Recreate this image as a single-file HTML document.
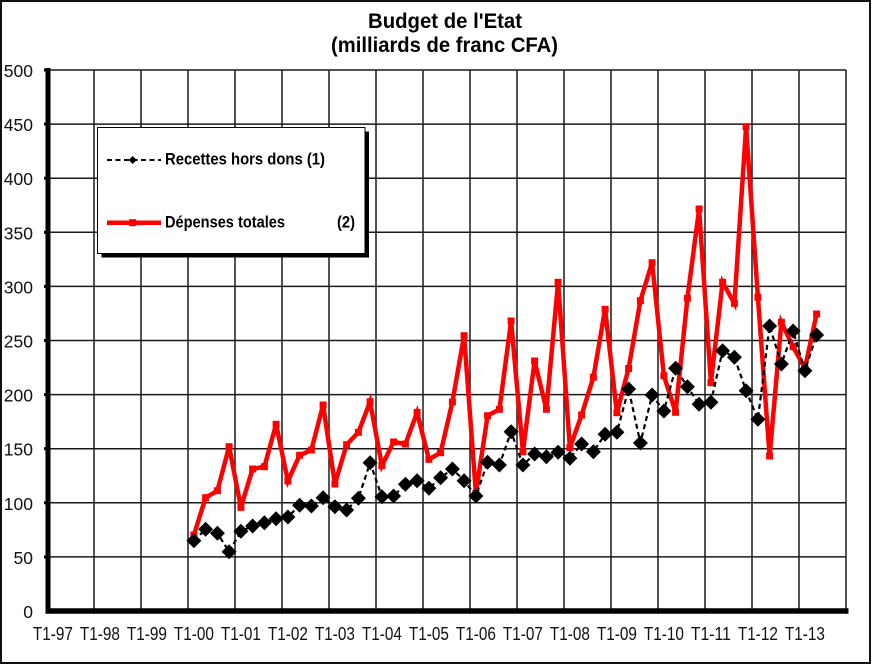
<!DOCTYPE html>
<html><head><meta charset="utf-8"><style>html,body{margin:0;padding:0;background:#fff}svg{display:block}</style></head>
<body>
<svg width="874" height="667" viewBox="0 0 874 667" xmlns="http://www.w3.org/2000/svg" font-family="Liberation Sans, Arial, sans-serif">
<rect x="0" y="0" width="874" height="667" fill="#fff"/>
<rect x="1" y="1" width="869" height="662" fill="none" stroke="#111" stroke-width="2"/>
<!-- title -->
<text x="445" y="28" font-size="21" font-weight="bold" text-anchor="middle" textLength="154" lengthAdjust="spacingAndGlyphs">Budget de l'Etat</text>
<text x="444.5" y="52" font-size="21" font-weight="bold" text-anchor="middle" textLength="227" lengthAdjust="spacingAndGlyphs">(milliards de franc CFA)</text>
<!-- grid -->
<g stroke="#1a1a1a" stroke-width="1.5">
<line x1="48" y1="70" x2="846" y2="70"/>
<line x1="48" y1="124.1" x2="846" y2="124.1"/>
<line x1="48" y1="178.2" x2="846" y2="178.2"/>
<line x1="48" y1="232.3" x2="846" y2="232.3"/>
<line x1="48" y1="286.4" x2="846" y2="286.4"/>
<line x1="48" y1="340.5" x2="846" y2="340.5"/>
<line x1="48" y1="394.6" x2="846" y2="394.6"/>
<line x1="48" y1="448.7" x2="846" y2="448.7"/>
<line x1="48" y1="502.8" x2="846" y2="502.8"/>
<line x1="48" y1="556.9" x2="846" y2="556.9"/>
<line x1="94" y1="70" x2="94" y2="611"/>
<line x1="141" y1="70" x2="141" y2="611"/>
<line x1="188" y1="70" x2="188" y2="611"/>
<line x1="235" y1="70" x2="235" y2="611"/>
<line x1="282" y1="70" x2="282" y2="611"/>
<line x1="329" y1="70" x2="329" y2="611"/>
<line x1="376" y1="70" x2="376" y2="611"/>
<line x1="423" y1="70" x2="423" y2="611"/>
<line x1="470" y1="70" x2="470" y2="611"/>
<line x1="517" y1="70" x2="517" y2="611"/>
<line x1="564" y1="70" x2="564" y2="611"/>
<line x1="611" y1="70" x2="611" y2="611"/>
<line x1="658" y1="70" x2="658" y2="611"/>
<line x1="705" y1="70" x2="705" y2="611"/>
<line x1="752" y1="70" x2="752" y2="611"/>
<line x1="799" y1="70" x2="799" y2="611"/>
<line x1="846" y1="70" x2="846" y2="611"/>
</g>
<!-- axes -->
<line x1="48" y1="68" x2="48" y2="613.5" stroke="#000" stroke-width="5"/>
<line x1="45.5" y1="611" x2="848.5" y2="611" stroke="#000" stroke-width="5.5"/>
<g stroke="#000" stroke-width="3">
<line x1="44" y1="70" x2="48" y2="70"/><line x1="44" y1="124.1" x2="48" y2="124.1"/><line x1="44" y1="178.2" x2="48" y2="178.2"/><line x1="44" y1="232.3" x2="48" y2="232.3"/><line x1="44" y1="286.4" x2="48" y2="286.4"/><line x1="44" y1="340.5" x2="48" y2="340.5"/><line x1="44" y1="394.6" x2="48" y2="394.6"/><line x1="44" y1="448.7" x2="48" y2="448.7"/><line x1="44" y1="502.8" x2="48" y2="502.8"/><line x1="44" y1="556.9" x2="48" y2="556.9"/>
</g>
<!-- y labels -->
<g font-size="17.5" text-anchor="end" fill="#111">
<text x="33" y="77">500</text>
<text x="33" y="131.1">450</text>
<text x="33" y="185.2">400</text>
<text x="33" y="239.3">350</text>
<text x="33" y="293.4">300</text>
<text x="33" y="347.5">250</text>
<text x="33" y="401.6">200</text>
<text x="33" y="455.7">150</text>
<text x="33" y="509.8">100</text>
<text x="33" y="563.9">50</text>
<text x="33" y="618">0</text>
</g>
<!-- x labels -->
<g font-size="18" text-anchor="middle" fill="#111">
<text x="52.9" y="640" textLength="40" lengthAdjust="spacingAndGlyphs">T1-97</text>
<text x="99.9" y="640" textLength="40" lengthAdjust="spacingAndGlyphs">T1-98</text>
<text x="146.9" y="640" textLength="40" lengthAdjust="spacingAndGlyphs">T1-99</text>
<text x="193.9" y="640" textLength="40" lengthAdjust="spacingAndGlyphs">T1-00</text>
<text x="240.9" y="640" textLength="40" lengthAdjust="spacingAndGlyphs">T1-01</text>
<text x="287.9" y="640" textLength="40" lengthAdjust="spacingAndGlyphs">T1-02</text>
<text x="334.9" y="640" textLength="40" lengthAdjust="spacingAndGlyphs">T1-03</text>
<text x="381.9" y="640" textLength="40" lengthAdjust="spacingAndGlyphs">T1-04</text>
<text x="428.9" y="640" textLength="40" lengthAdjust="spacingAndGlyphs">T1-05</text>
<text x="475.9" y="640" textLength="40" lengthAdjust="spacingAndGlyphs">T1-06</text>
<text x="522.9" y="640" textLength="40" lengthAdjust="spacingAndGlyphs">T1-07</text>
<text x="569.9" y="640" textLength="40" lengthAdjust="spacingAndGlyphs">T1-08</text>
<text x="616.9" y="640" textLength="40" lengthAdjust="spacingAndGlyphs">T1-09</text>
<text x="663.9" y="640" textLength="40" lengthAdjust="spacingAndGlyphs">T1-10</text>
<text x="710.9" y="640" textLength="40" lengthAdjust="spacingAndGlyphs">T1-11</text>
<text x="757.9" y="640" textLength="40" lengthAdjust="spacingAndGlyphs">T1-12</text>
<text x="804.9" y="640" textLength="40" lengthAdjust="spacingAndGlyphs">T1-13</text>
</g>
<!-- red series -->
<polyline fill="none" stroke="#ff0000" stroke-width="4.5" stroke-linejoin="miter" points="193.9,535 205.6,497.7 217.4,490.7 229.1,446.7 240.9,507.3 252.6,469 264.4,466.7 276.1,424.3 287.9,481 299.6,455.3 311.4,450 323.1,405 334.9,484 346.6,444.7 358.4,432.3 370.1,401.7 381.9,465.7 393.6,442 405.4,444 417.1,412.5 428.9,459.3 440.6,452.7 452.4,402 464.1,335.7 475.9,493.3 487.6,415.7 499.4,409.3 511.1,321 522.9,451.7 534.6,361 546.4,409.3 558.1,282.3 569.9,447.7 581.6,415 593.4,377.3 605.1,309.3 616.9,412.7 628.6,368.5 640.4,300.7 652.1,262.7 663.9,375.7 675.6,412.3 687.4,298.3 699.1,209 710.9,382.7 722.6,282.3 734.4,303.3 746.1,126.7 757.9,297.3 769.6,456 781.4,322.3 793.1,346.7 804.9,368.3 816.6,314"/>
<g fill="#ff0000">
<rect x="190.4" y="531.5" width="7" height="7"/><rect x="202.1" y="494.2" width="7" height="7"/><rect x="213.9" y="487.2" width="7" height="7"/><rect x="225.6" y="443.2" width="7" height="7"/><rect x="237.4" y="503.8" width="7" height="7"/><rect x="249.1" y="465.5" width="7" height="7"/><rect x="260.9" y="463.2" width="7" height="7"/><rect x="272.6" y="420.8" width="7" height="7"/><rect x="284.4" y="477.5" width="7" height="7"/><rect x="296.1" y="451.8" width="7" height="7"/><rect x="307.9" y="446.5" width="7" height="7"/><rect x="319.6" y="401.5" width="7" height="7"/><rect x="331.4" y="480.5" width="7" height="7"/><rect x="343.1" y="441.2" width="7" height="7"/><rect x="354.9" y="428.8" width="7" height="7"/><rect x="366.6" y="398.2" width="7" height="7"/><rect x="378.4" y="462.2" width="7" height="7"/><rect x="390.1" y="438.5" width="7" height="7"/><rect x="401.9" y="440.5" width="7" height="7"/><rect x="413.6" y="409" width="7" height="7"/><rect x="425.4" y="455.8" width="7" height="7"/><rect x="437.1" y="449.2" width="7" height="7"/><rect x="448.9" y="398.5" width="7" height="7"/><rect x="460.6" y="332.2" width="7" height="7"/><rect x="472.4" y="489.8" width="7" height="7"/><rect x="484.1" y="412.2" width="7" height="7"/><rect x="495.9" y="405.8" width="7" height="7"/><rect x="507.6" y="317.5" width="7" height="7"/><rect x="519.4" y="448.2" width="7" height="7"/><rect x="531.1" y="357.5" width="7" height="7"/><rect x="542.9" y="405.8" width="7" height="7"/><rect x="554.6" y="278.8" width="7" height="7"/><rect x="566.4" y="444.2" width="7" height="7"/><rect x="578.1" y="411.5" width="7" height="7"/><rect x="589.9" y="373.8" width="7" height="7"/><rect x="601.6" y="305.8" width="7" height="7"/><rect x="613.4" y="409.2" width="7" height="7"/><rect x="625.1" y="365" width="7" height="7"/><rect x="636.9" y="297.2" width="7" height="7"/><rect x="648.6" y="259.2" width="7" height="7"/><rect x="660.4" y="372.2" width="7" height="7"/><rect x="672.1" y="408.8" width="7" height="7"/><rect x="683.9" y="294.8" width="7" height="7"/><rect x="695.6" y="205.5" width="7" height="7"/><rect x="707.4" y="379.2" width="7" height="7"/><rect x="719.1" y="278.8" width="7" height="7"/><rect x="730.9" y="299.8" width="7" height="7"/><rect x="742.6" y="123.2" width="7" height="7"/><rect x="754.4" y="293.8" width="7" height="7"/><rect x="766.1" y="452.5" width="7" height="7"/><rect x="777.9" y="318.8" width="7" height="7"/><rect x="789.6" y="343.2" width="7" height="7"/><rect x="801.4" y="364.8" width="7" height="7"/><rect x="813.1" y="310.5" width="7" height="7"/>
</g>
<!-- black series -->
<polyline fill="none" stroke="#000" stroke-width="2.2" stroke-dasharray="5,3.5" points="193.9,540.7 205.6,529.3 217.4,533.3 229.1,551.7 240.9,531.3 252.6,526 264.4,522.7 276.1,518.7 287.9,517 299.6,505.3 311.4,506 323.1,497.7 334.9,506.7 346.6,510 358.4,498.3 370.1,462.7 381.9,496.7 393.6,496 405.4,484.3 417.1,480.7 428.9,488.3 440.6,477.7 452.4,469 464.1,480.7 475.9,496 487.6,462.3 499.4,465 511.1,431.7 522.9,465 534.6,454 546.4,456.7 558.1,452.3 569.9,458.3 581.6,444 593.4,451.7 605.1,434.3 616.9,432.3 628.6,389 640.4,443 652.1,395 663.9,411 675.6,368.3 687.4,386.7 699.1,404.3 710.9,402.3 722.6,350.7 734.4,357.3 746.1,390.7 757.9,419.3 769.6,326 781.4,364 793.1,331 804.9,370.7 816.6,335"/>
<g fill="#000">
<path d="M193.9,533.2l7.5,7.5l-7.5,7.5l-7.5,-7.5z"/><path d="M205.6,521.8l7.5,7.5l-7.5,7.5l-7.5,-7.5z"/><path d="M217.4,525.8l7.5,7.5l-7.5,7.5l-7.5,-7.5z"/><path d="M229.1,544.2l7.5,7.5l-7.5,7.5l-7.5,-7.5z"/><path d="M240.9,523.8l7.5,7.5l-7.5,7.5l-7.5,-7.5z"/><path d="M252.6,518.5l7.5,7.5l-7.5,7.5l-7.5,-7.5z"/><path d="M264.4,515.2l7.5,7.5l-7.5,7.5l-7.5,-7.5z"/><path d="M276.1,511.2l7.5,7.5l-7.5,7.5l-7.5,-7.5z"/><path d="M287.9,509.5l7.5,7.5l-7.5,7.5l-7.5,-7.5z"/><path d="M299.6,497.8l7.5,7.5l-7.5,7.5l-7.5,-7.5z"/><path d="M311.4,498.5l7.5,7.5l-7.5,7.5l-7.5,-7.5z"/><path d="M323.1,490.2l7.5,7.5l-7.5,7.5l-7.5,-7.5z"/><path d="M334.9,499.2l7.5,7.5l-7.5,7.5l-7.5,-7.5z"/><path d="M346.6,502.5l7.5,7.5l-7.5,7.5l-7.5,-7.5z"/><path d="M358.4,490.8l7.5,7.5l-7.5,7.5l-7.5,-7.5z"/><path d="M370.1,455.2l7.5,7.5l-7.5,7.5l-7.5,-7.5z"/><path d="M381.9,489.2l7.5,7.5l-7.5,7.5l-7.5,-7.5z"/><path d="M393.6,488.5l7.5,7.5l-7.5,7.5l-7.5,-7.5z"/><path d="M405.4,476.8l7.5,7.5l-7.5,7.5l-7.5,-7.5z"/><path d="M417.1,473.2l7.5,7.5l-7.5,7.5l-7.5,-7.5z"/><path d="M428.9,480.8l7.5,7.5l-7.5,7.5l-7.5,-7.5z"/><path d="M440.6,470.2l7.5,7.5l-7.5,7.5l-7.5,-7.5z"/><path d="M452.4,461.5l7.5,7.5l-7.5,7.5l-7.5,-7.5z"/><path d="M464.1,473.2l7.5,7.5l-7.5,7.5l-7.5,-7.5z"/><path d="M475.9,488.5l7.5,7.5l-7.5,7.5l-7.5,-7.5z"/><path d="M487.6,454.8l7.5,7.5l-7.5,7.5l-7.5,-7.5z"/><path d="M499.4,457.5l7.5,7.5l-7.5,7.5l-7.5,-7.5z"/><path d="M511.1,424.2l7.5,7.5l-7.5,7.5l-7.5,-7.5z"/><path d="M522.9,457.5l7.5,7.5l-7.5,7.5l-7.5,-7.5z"/><path d="M534.6,446.5l7.5,7.5l-7.5,7.5l-7.5,-7.5z"/><path d="M546.4,449.2l7.5,7.5l-7.5,7.5l-7.5,-7.5z"/><path d="M558.1,444.8l7.5,7.5l-7.5,7.5l-7.5,-7.5z"/><path d="M569.9,450.8l7.5,7.5l-7.5,7.5l-7.5,-7.5z"/><path d="M581.6,436.5l7.5,7.5l-7.5,7.5l-7.5,-7.5z"/><path d="M593.4,444.2l7.5,7.5l-7.5,7.5l-7.5,-7.5z"/><path d="M605.1,426.8l7.5,7.5l-7.5,7.5l-7.5,-7.5z"/><path d="M616.9,424.8l7.5,7.5l-7.5,7.5l-7.5,-7.5z"/><path d="M628.6,381.5l7.5,7.5l-7.5,7.5l-7.5,-7.5z"/><path d="M640.4,435.5l7.5,7.5l-7.5,7.5l-7.5,-7.5z"/><path d="M652.1,387.5l7.5,7.5l-7.5,7.5l-7.5,-7.5z"/><path d="M663.9,403.5l7.5,7.5l-7.5,7.5l-7.5,-7.5z"/><path d="M675.6,360.8l7.5,7.5l-7.5,7.5l-7.5,-7.5z"/><path d="M687.4,379.2l7.5,7.5l-7.5,7.5l-7.5,-7.5z"/><path d="M699.1,396.8l7.5,7.5l-7.5,7.5l-7.5,-7.5z"/><path d="M710.9,394.8l7.5,7.5l-7.5,7.5l-7.5,-7.5z"/><path d="M722.6,343.2l7.5,7.5l-7.5,7.5l-7.5,-7.5z"/><path d="M734.4,349.8l7.5,7.5l-7.5,7.5l-7.5,-7.5z"/><path d="M746.1,383.2l7.5,7.5l-7.5,7.5l-7.5,-7.5z"/><path d="M757.9,411.8l7.5,7.5l-7.5,7.5l-7.5,-7.5z"/><path d="M769.6,318.5l7.5,7.5l-7.5,7.5l-7.5,-7.5z"/><path d="M781.4,356.5l7.5,7.5l-7.5,7.5l-7.5,-7.5z"/><path d="M793.1,323.5l7.5,7.5l-7.5,7.5l-7.5,-7.5z"/><path d="M804.9,363.2l7.5,7.5l-7.5,7.5l-7.5,-7.5z"/><path d="M816.6,327.5l7.5,7.5l-7.5,7.5l-7.5,-7.5z"/>
</g>
<!-- legend -->
<rect x="101.5" y="131.5" width="267.5" height="126" fill="#000"/>
<rect x="97.5" y="127.5" width="267.5" height="126" fill="#fff" stroke="#000" stroke-width="1"/>
<line x1="107" y1="160" x2="161" y2="160" stroke="#000" stroke-width="2" stroke-dasharray="5,3.5"/>
<path d="M132.7,156l4,4l-4,4l-4,-4z" fill="#000"/>
<line x1="107" y1="222.7" x2="161" y2="222.7" stroke="#ff0000" stroke-width="4.5"/>
<rect x="129.2" y="219.2" width="7" height="7" fill="#ff0000"/>
<g font-size="16.5" font-weight="bold" fill="#000">
<text x="165" y="164.5" textLength="160" lengthAdjust="spacingAndGlyphs">Recettes hors dons (1)</text>
<text x="165" y="227.5" textLength="120" lengthAdjust="spacingAndGlyphs">Dépenses totales</text>
<text x="337" y="227.5" textLength="18" lengthAdjust="spacingAndGlyphs">(2)</text>
</g>
</svg>
</body></html>
